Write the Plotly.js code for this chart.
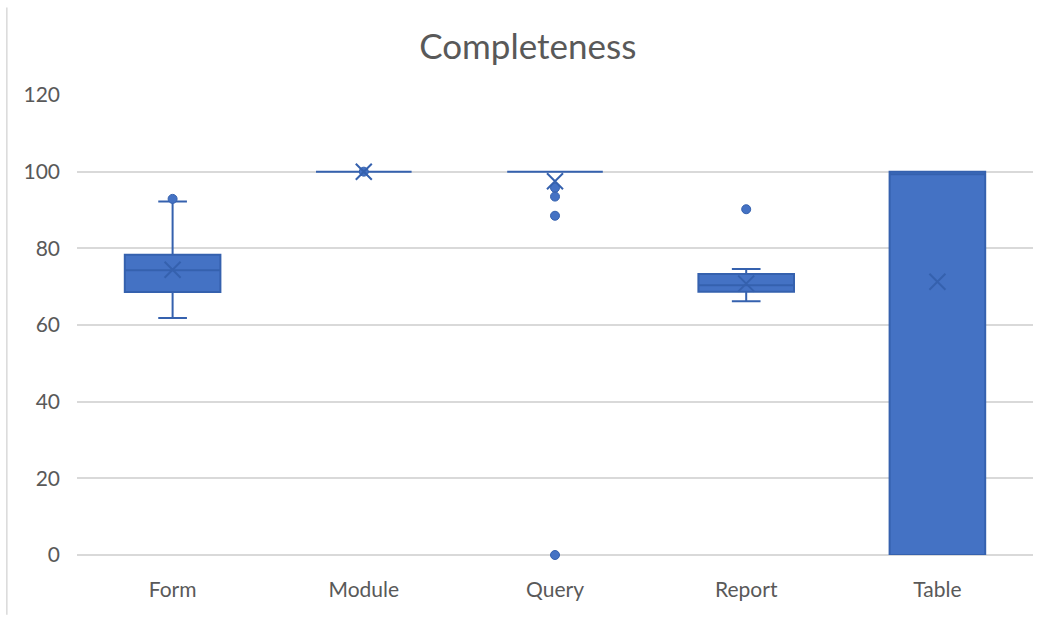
<!DOCTYPE html>
<html>
<head>
<meta charset="utf-8">
<script src="https://cdn.plot.ly/plotly-3.0.1.min.js"></script>
<style>html,body{margin:0;padding:0;background:#fff;}#chart{width:1041px;height:617px;}</style>
</head>
<body>
<div id="chart"></div>
<script>
const categories = ["Form", "Module", "Query", "Report", "Table"];
const q1Values = [68.6, 100, 100, 68.7, 0];
const medianValues = [74.3, 100, 100, 70.4, 99.3];
const q3Values = [78.3, 100, 100, 73.3, 100];
const lowerWhisker = [61.8, 100, 100, 66.2, 0];
const upperWhisker = [92.2, 100, 100, 74.6, 100];
const meanValues = [74.4, 100, 97.5, 70.8, 71.3];
const outlierCategories = ["Form", "Module", "Query", "Query", "Query", "Query", "Report"];
const outlierValues = [92.9, 100, 95.8, 93.5, 88.5, 0, 90.2];
const yTicks = [0, 20, 40, 60, 80, 100, 120];

const fillColor = "#4472C4";
const lineColor = "#3561AE";
const textColor = "#595959";
const fontFamily = "Lato, 'Open Sans', sans-serif";

const traces = [
  {
    type: "box",
    x: categories,
    q1: q1Values,
    median: medianValues,
    q3: q3Values,
    lowerfence: lowerWhisker,
    upperfence: upperWhisker,
    boxpoints: false,
    width: 0.5,
    whiskerwidth: 0.3,
    fillcolor: fillColor,
    line: {color: lineColor, width: 2},
    hoverinfo: "skip",
    showlegend: false
  },
  {
    type: "scatter",
    mode: "markers",
    x: outlierCategories,
    y: outlierValues,
    marker: {color: fillColor, size: 9, line: {color: lineColor, width: 1}},
    cliponaxis: false,
    showlegend: false
  },
  {
    type: "scatter",
    mode: "markers",
    x: categories,
    y: meanValues,
    marker: {symbol: "x-thin-open", size: 16, color: lineColor, line: {color: lineColor, width: 2}},
    showlegend: false
  }
];

const layout = {
  width: 1041,
  height: 617,
  margin: {l: 77, r: 8, t: 95, b: 62},
  paper_bgcolor: "#ffffff",
  plot_bgcolor: "#ffffff",
  font: {family: fontFamily, color: textColor, size: 21},
  title: {
    text: "Completeness",
    font: {family: fontFamily, size: 35, color: textColor},
    x: 0.507, xref: "container", xanchor: "center",
    y: 0.925, yref: "container", yanchor: "middle"
  },
  xaxis: {
    type: "category",
    categoryorder: "array",
    categoryarray: categories,
    range: [-0.5, 4.5],
    showgrid: false,
    showline: false,
    zeroline: false,
    ticks: "",
    ticklabelstandoff: 20,
    tickfont: {family: fontFamily, size: 21, color: textColor}
  },
  yaxis: {
    range: [0, 120],
    tickvals: yTicks,
    showgrid: true,
    gridcolor: "#D9D9D9",
    gridwidth: 2,
    zeroline: true,
    zerolinecolor: "#D9D9D9",
    zerolinewidth: 2,
    showline: false,
    ticks: "",
    ticklabelstandoff: 16,
    tickfont: {family: fontFamily, size: 21, color: textColor}
  },
  shapes: [
    {type: "line", xref: "paper", yref: "paper", x0: -0.0734, x1: -0.0734, y0: 1.19, y1: -0.13,
     line: {color: "#D9D9D9", width: 1.5}}
  ]
};

Plotly.newPlot("chart", traces, layout, {displayModeBar: false, staticPlot: true});
</script>
</body>
</html>
